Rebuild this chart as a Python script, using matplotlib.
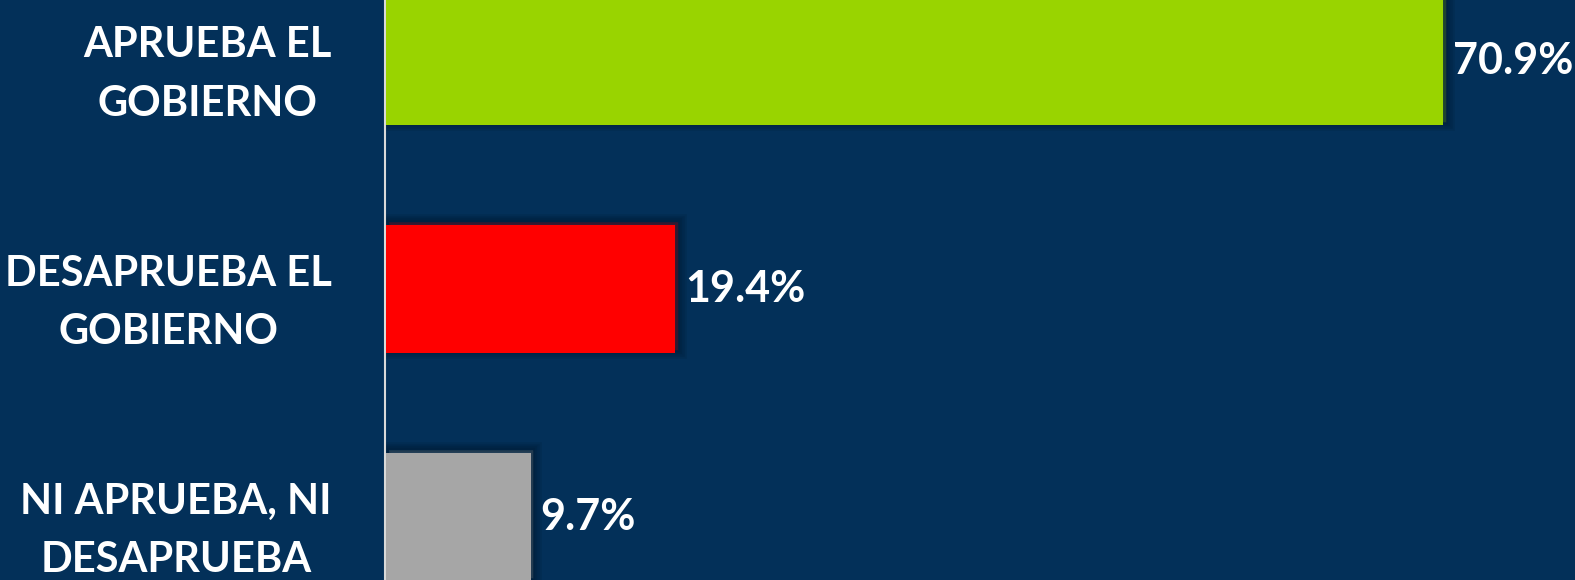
import matplotlib.pyplot as plt
import matplotlib.patheffects as pe

# datos de la encuesta
categorias = ['APRUEBA EL\nGOBIERNO', 'DESAPRUEBA EL\nGOBIERNO', 'NI APRUEBA, NI\nDESAPRUEBA']
valores = [70.9, 19.4, 9.7]
colores = ['#99D400', '#FF0000', '#A6A6A6']

fondo = '#033059'

plt.rcParams['font.family'] = ['Lato', 'DejaVu Sans']

fig = plt.figure(figsize=(15.75, 5.8), dpi=100, facecolor=fondo)
ax = fig.add_axes([386 / 1575, 0, 1 - 386 / 1575, 1])
ax.set_facecolor(fondo)

posiciones = list(range(len(categorias)))
barras = ax.barh(posiciones, valores, height=0.56, color=colores, zorder=3)

# sombra difusa arriba y a la derecha
sombra = [pe.Stroke(linewidth=w, foreground='black', alpha=0.07, offset=(2, 2))
          for w in (12, 9, 6, 3)]
for b in barras:
    b.set_path_effects(sombra + [pe.Normal()])

for b, v in zip(barras, valores):
    ax.annotate(f'{v:.1f}%', (b.get_width(), b.get_y() + b.get_height() / 2),
                xytext=(7, 0), textcoords='offset points', va='center', ha='left',
                color='white', fontsize=31, fontweight='bold')

ax.set_xlim(0, 79.75)
ax.set_ylim(2.276, -0.2675)

for lado in ['top', 'right', 'bottom']:
    ax.spines[lado].set_visible(False)
ax.spines['left'].set_color('#D9D9D9')
ax.spines['left'].set_linewidth(1.5)
ax.spines['left'].set_position(('outward', 1))

# etiquetas al final (set_position reinicia los ticks)
ax.set_xticks([])
ax.set_yticks(posiciones)
ax.tick_params(axis='y', length=0, pad=38)
ax.set_yticklabels(categorias, fontsize=30, fontweight='bold', color='white',
                   multialignment='center', linespacing=1.65)

fig.savefig('out.png', facecolor=fondo)
